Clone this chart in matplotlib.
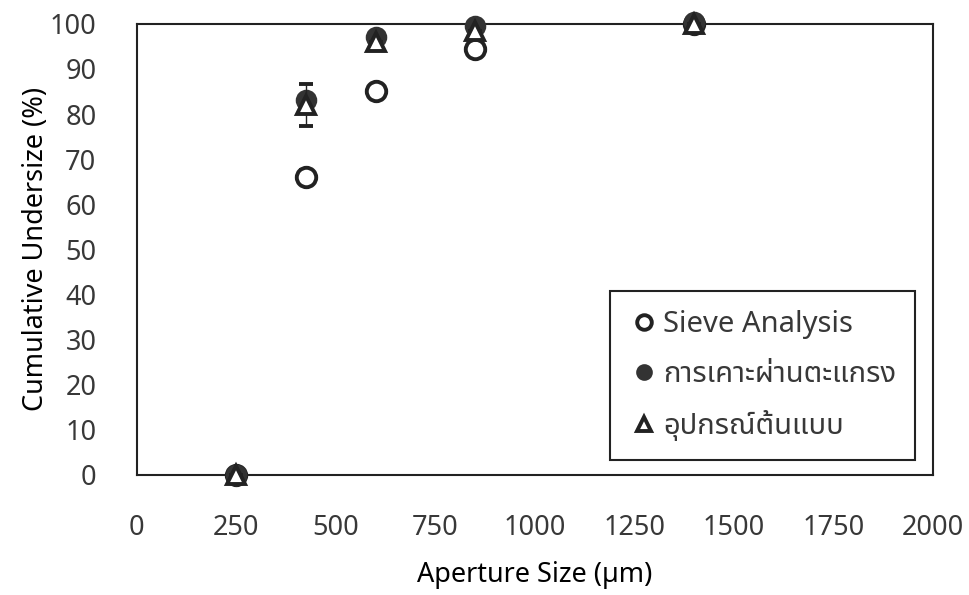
import numpy as np
import matplotlib

matplotlib.use('Agg')
import matplotlib.pyplot as plt

plt.rcParams['font.family'] = ['Noto Sans', 'Noto Sans Thai', 'DejaVu Sans']
plt.rcParams['font.size'] = 19.5
plt.rcParams['text.color'] = '#383838'
plt.rcParams['xtick.color'] = '#383838'
plt.rcParams['ytick.color'] = '#383838'

# aperture sizes (um)
aperture = [250, 425, 600, 850, 1400]

# cumulative undersize (%)
sieve = [0, 66, 85, 94.5, 100]
sieve_err = [0, 1.5, 0, 0, 0]
tapping = [0, 83, 97, 99.5, 100.5]
tapping_err = [0, 1.0, 0, 0, 0]
prototype = [0, 82, 96, 98.5, 100]
prototype_err = [0, 4.7, 0, 0, 0]

labels = ['Sieve Analysis', 'การเคาะผ่านตะแกรง', 'อุปกรณ์ต้นแบบ']


def main():
    fig, ax = plt.subplots(figsize=(9.7, 5.95), dpi=100)
    fig.subplots_adjust(left=0.141, right=0.962, top=0.96, bottom=0.202)

    common = dict(elinewidth=1, capsize=5, ecolor='#222222', clip_on=False)
    ax.errorbar(aperture, sieve, yerr=sieve_err, fmt='o', ms=14,
                mfc='white', mec='#222222', mew=2.8,
                label=labels[0], zorder=3, **common)
    ax.errorbar(aperture, tapping, yerr=tapping_err, fmt='o', ms=14,
                mfc='#333333', mec='#333333', mew=1.5,
                label=labels[1], zorder=4, **common)
    ax.errorbar(aperture, prototype, yerr=prototype_err, fmt='^', ms=13,
                mfc='white', mec='#222222', mew=2.8,
                label=labels[2], zorder=5, **common)

    ax.set_xlim(0, 2000)
    ax.set_ylim(0, 100)
    ax.set_xticks(np.arange(0, 2001, 250))
    ax.set_yticks(np.arange(0, 101, 10))
    ax.tick_params(axis='both', length=0)
    ax.tick_params(axis='x', pad=28)
    ax.tick_params(axis='y', pad=29)
    for sp in ax.spines.values():
        sp.set_linewidth(1.5)
        sp.set_color('#222222')

    ax.set_xlabel('Aperture Size (µm)', labelpad=14)
    ax.set_ylabel('Cumulative Undersize (%)', labelpad=0)

    handles, labs = ax.get_legend_handles_labels()
    handles = [h[0] for h in handles]
    leg = ax.legend(handles, labs, loc='lower right',
                    bbox_to_anchor=(0.977, 0.033), borderaxespad=0,
                    fancybox=False, edgecolor='#222222', framealpha=1,
                    fontsize=21, labelspacing=0.72, handletextpad=0.15,
                    handlelength=1.0, borderpad=0.65, markerscale=0.75)
    leg.get_frame().set_linewidth(1.5)

    fig.savefig('out.png')


if __name__ == '__main__':
    main()
